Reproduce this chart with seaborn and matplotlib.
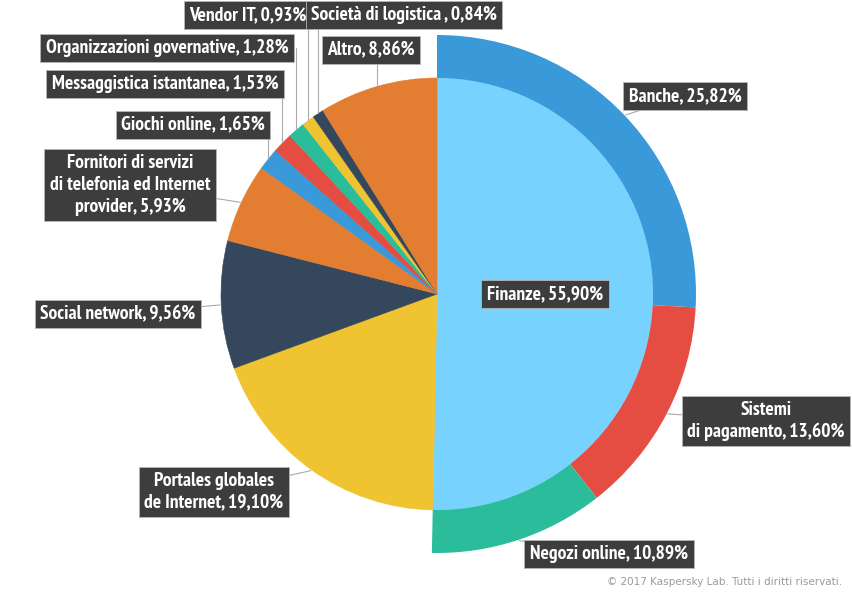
import numpy as np
import matplotlib
matplotlib.use("Agg")
import matplotlib.pyplot as plt
import seaborn as sns

# ring (subcategories of Finanze)
ring_labels = ["Banche, 25,82%", "Sistemi\ndi pagamento, 13,60%", "Negozi online, 10,89%"]
ring_values = [25.82, 13.60, 10.89]
ring_colors = ["#3a99d8", "#e54d42", "#2bbc9c"]

# main pie
pie_labels = ["Finanze, 55,90%", "Portales globales\nde Internet, 19,10%", "Social network, 9,56%",
              "Fornitori di servizi\ndi telefonia ed Internet\nprovider, 5,93%", "Giochi online, 1,65%",
              "Messaggistica istantanea, 1,53%", "Organizzazioni governative, 1,28%",
              "Vendor IT, 0,93%", "Società di logistica , 0,84%", "Altro, 8,86%"]
pie_values = [sum(ring_values), 19.10, 9.56, 5.93, 1.65, 1.53, 1.28, 0.93, 0.84, 8.86]
pie_colors = ["#77d3fd", "#f0c330", "#35475c", "#e27d31", "#3a99d8",
              "#e54d42", "#2bbc9c", "#f0c330", "#35475c", "#e27d31"]

# label box centres (pixel coords, y from top); vertical leader line flags
pie_pos = [(545, 294), (214, 492), (118, 314), (130, 185), (193, 125),
           (165, 84), (167, 48), (248, 15), (404, 15), (371, 50)]
pie_vert = [False, False, False, False, True, True, True, True, True, True]
ring_pos = [(685, 96), (766, 421), (609, 554)]

W, H = 852, 595
cx, cy = 437, H - 294
r_in, r_out = 216, 259

sns.set_theme(style="white")
plt.rcParams['font.family'] = ['PT Sans Narrow', 'DejaVu Sans']

fig = plt.figure(figsize=(W / 100, H / 100), dpi=100)
ax = fig.add_axes([0, 0, 1, 1])
ax.set_xlim(0, W)
ax.set_ylim(0, H)
ax.set_aspect("equal")
ax.axis("off")

total = sum(pie_values)
wedges, _ = ax.pie(pie_values, colors=pie_colors, startangle=90, counterclock=False,
                   radius=r_in, center=(cx, cy), wedgeprops=dict(linewidth=0.4))
for w in wedges:
    w.set_edgecolor(w.get_facecolor())
ax.pie(ring_values + [total - sum(ring_values)], colors=ring_colors + ["none"],
       startangle=90, counterclock=False, radius=r_out, center=(cx, cy),
       wedgeprops=dict(width=r_out - r_in, linewidth=0))
ax.set_xlim(0, W)
ax.set_ylim(0, H)


def mid_angle(values, i):
    c = np.cumsum([0] + list(values))
    frac = (c[i] + c[i + 1]) / 2 / total
    return np.deg2rad(90 - 360 * frac)


def label(text, pos, anchor_r, ang, line=True, vert=False):
    x, y = pos[0], H - pos[1]
    if line:
        x0 = cx + (anchor_r + 1) * np.cos(ang)
        y0 = cy + (anchor_r + 1) * np.sin(ang)
        if vert:
            ax.plot([x0, x0], [y0, y], color="#aaaaaa", lw=0.8, zorder=3)
        else:
            ax.plot([x0, x], [y0, y], color="#aaaaaa", lw=0.8, zorder=3)
    ax.text(x, y, text, ha="center", va="center", multialignment="center",
            color="white", fontsize=14, fontweight="bold", zorder=5, linespacing=1.25,
            bbox=dict(boxstyle="square,pad=0.28", fc="#3d3d3d", ec="#b5b5b5", lw=0.6))


for i, (t, p) in enumerate(zip(pie_labels, pie_pos)):
    label(t, p, r_in, mid_angle(pie_values, i), line=(i != 0), vert=pie_vert[i])
for i, (t, p) in enumerate(zip(ring_labels, ring_pos)):
    label(t, p, r_out, mid_angle(ring_values, i))

ax.text(842, H - 582, "© 2017 Kaspersky Lab. Tutti i diritti riservati.", ha="right", va="center",
        fontsize=7.5, color="#9a9a9a", family=["DejaVu Sans"])

fig.savefig("out.png", dpi=100)
